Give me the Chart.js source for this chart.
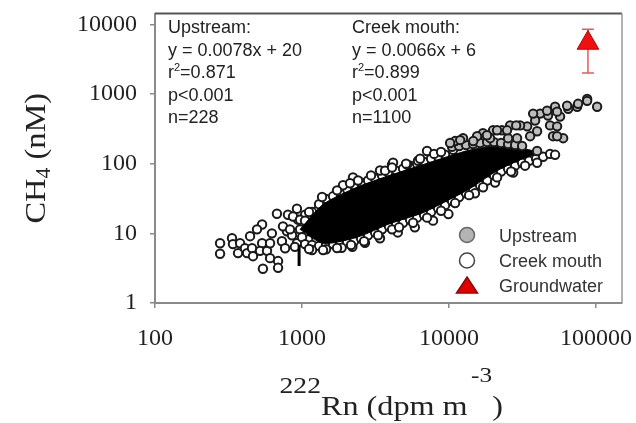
<!DOCTYPE html>
<html>
<head>
<meta charset="utf-8">
<script src="https://cdn.jsdelivr.net/npm/chart.js@4.4.1/dist/chart.umd.min.js"></script>
<style>
  html, body { margin: 0; padding: 0; background: #fff; }
  canvas { display: block; }
</style>
</head>
<body>
<canvas id="rnChart" width="636" height="423"></canvas>
<script>
// decade ticks only
const xTicks = [100, 1000, 10000, 100000];
const yTicks = [1, 10, 100, 1000, 10000];

// creek mouth samples, [Rn, CH4]
const creekTail = [
  [277, 7.2], [277, 5.1], [334, 8.5], [339, 7.0], [379, 7.2], [367, 5.2], [409, 6.1], [423, 5.2],
  [457, 6.1], [464, 4.7], [535, 13.4], [535, 7.2], [518, 5.6], [542, 3.1], [578, 5.6], [606, 4.4],
  [687, 4.0], [687, 3.2], [624, 10], [675, 19.1], [730, 7.7], [767, 6.1], [802, 18.5], [790, 10.7],
  [923, 22.5], [938, 15.7], [969, 11.4], [923, 7.2], [443, 9.1], [494, 11.4], [606, 7.2], [855, 9.4],
  [742, 12.6], [1050, 18.5], [1100, 8.2], [1170, 6.6], [1290, 21.8], [868, 17.4], [1000, 8.8],
  [894, 6.4], [828, 11.4], [1100, 12.6], [969, 15.7]
];
const creekUpperEdge = [
  [1048, 15.2], [1170, 20.2], [1305, 26.2], [1457, 31.1], [1625, 34.0], [1814, 38.8], [2024, 42.8],
  [2258, 49], [2520, 53.7], [2812, 57.3], [3138, 61.2], [3501, 67.5], [3906, 74.4], [4360, 79.4],
  [4865, 84.7], [5429, 93.5], [6057, 100], [6759, 106], [7543, 117.6], [8418, 125.6], [9393, 134],
  [1900, 49], [2220, 63.5], [3390, 79.7], [3850, 75], [4090, 97], [4160, 103], [5180, 97],
  [6150, 110], [7080, 152], [10650, 158],
  [1116, 20.2], [1368, 33.2], [1730, 41.4], [2121, 52.3], [2404, 57.3], [2946, 67.8], [3670, 79.4],
  [4095, 87.9], [5099, 100], [6350, 117.6], [7906, 138], [8820, 147]
];
const creekLowerEdge = [
  [1048, 7.0], [1170, 6.8], [1305, 6.6], [1457, 6.8], [1625, 7.0], [1814, 7.2], [2024, 7.4],
  [2258, 7.7], [2520, 8.5], [2812, 9.4], [3138, 10.3], [3501, 11.4], [3906, 12.5], [4360, 13.4],
  [4865, 14.2], [5429, 15.7], [6057, 16.8], [6759, 18.4], [7543, 20.2], [8418, 23.0], [9393, 25.4],
  [10480, 29.0], [11700, 33.1], [13050, 37.6], [14570, 42.8], [16250, 49], [18140, 57.3],
  [20240, 67.5], [22580, 77], [25200, 84.7], [28120, 93.5], [31380, 103], [35010, 110],
  [39060, 117.6], [43600, 125.6], [48650, 138],
  [1170, 5.75], [1457, 5.9], [1860, 6.2], [2200, 6.4], [2680, 7.3], [3390, 8.5], [4480, 10.3],
  [5850, 12.2], [7780, 15.2], [9900, 18.9], [15000, 37.6], [20550, 53.7], [27300, 74.4],
  [39700, 103], [52600, 134],
  [1116, 5.95], [1390, 5.75], [1730, 6.15], [2155, 6.8], [2642, 7.7], [3289, 9.4], [4095, 11.4],
  [4571, 12.2], [5690, 14.2], [7084, 16.8], [8820, 21.1], [10990, 27.2], [13680, 35.3],
  [17030, 45.9], [21210, 63.5], [26410, 77.2], [32880, 93.5]
];
// upstream samples, [Rn, CH4]
const upstreamPts = [
  [10480, 174], [11700, 179], [13050, 185], [14570, 191], [16250, 198], [18140, 204], [20240, 204],
  [22580, 198], [25200, 191], [28120, 185], [31380, 179],
  [86900, 851], [101600, 656], [74300, 656], [64600, 615], [52600, 656], [56900, 474], [47100, 490],
  [41600, 523], [38500, 417], [48600, 354], [54300, 343], [59700, 232], [50900, 248], [39700, 292],
  [34000, 343], [30400, 354], [35600, 248], [29000, 232], [26000, 354], [25200, 232], [22900, 301],
  [19900, 301], [19000, 232], [17000, 273], [15500, 248], [14600, 211], [12450, 232], [11000, 211],
  [39700, 152], [86900, 797], [75400, 723], [63500, 678], [54300, 558], [46400, 576], [37300, 523],
  [28600, 354], [24800, 301], [21200, 301], [18100, 256], [11900, 218], [10160, 198], [54300, 248]
];
// where the circles merge into solid black
const coreX = [970, 1390, 2370, 3970, 6660, 10200, 13900, 21200, 32900, 41600];
const coreTop = [11.4, 26, 46, 68, 97, 130, 157, 179, 163, 143];
const coreBottom = [11.4, 7.2, 8.8, 13.8, 19.8, 31, 44, 79, 122, 143];
// groundwater end-member and its range
const gwRn = 88000, gwCH4 = 5400, gwLow = 2000, gwHigh = 8500;
// short black mark near 1000
const markRn = 955, markLow = 3.4, markHigh = 6.8;

const upstreamText = ['Upstream:', 'y = 0.0078x + 20', 'r^2=0.871', 'p<0.001', 'n=228'];
const creekText = ['Creek mouth:', 'y = 0.0066x + 6', 'r^2=0.899', 'p<0.001', 'n=1100'];
const legendLabels = ['Upstream', 'Creek mouth', 'Groundwater'];

const pts = arr => arr.map(([x, y]) => ({ x, y }));
const SANS = '"Liberation Sans", Arial, sans-serif';
const SERIF = '"Liberation Serif", "Times New Roman", serif';

function drawStats(ctx, lines, x, y0) {
  lines.forEach((line, i) => {
    const y = y0 + i * 22.5;
    ctx.font = '18px ' + SANS;
    const k = line.indexOf('^');
    if (k < 0) { ctx.fillText(line, x, y); return; }
    const head = line.slice(0, k), sup = line[k + 1], rest = line.slice(k + 2);
    ctx.fillText(head, x, y);
    let cx = x + ctx.measureText(head).width;
    ctx.font = '11px ' + SANS;
    ctx.fillText(sup, cx, y - 6);
    cx += ctx.measureText(sup).width;
    ctx.font = '18px ' + SANS;
    ctx.fillText(rest, cx, y);
  });
}

const decor = {
  id: 'decor',
  afterDraw(chart) {
    const ctx = chart.ctx;
    const a = chart.chartArea;
    ctx.save();
    // frame
    ctx.strokeStyle = '#555';
    ctx.lineWidth = 2;
    ctx.beginPath(); ctx.moveTo(a.left, a.top); ctx.lineTo(a.right, a.top); ctx.stroke();
    ctx.strokeStyle = '#9a9a9a';
    ctx.lineWidth = 1.5;
    ctx.beginPath(); ctx.moveTo(a.right, a.top); ctx.lineTo(a.right, a.bottom); ctx.stroke();

    // regression stats
    ctx.fillStyle = '#222';
    ctx.textAlign = 'left';
    ctx.textBaseline = 'middle';
    drawStats(ctx, upstreamText, a.left + 13, a.top + 15);
    drawStats(ctx, creekText, a.left + 197, a.top + 15);

    // legend
    const lx = a.left + 312, ly = a.bottom - 68;
    ctx.lineWidth = 1.5;
    ctx.fillStyle = '#b4b4b4'; ctx.strokeStyle = '#666';
    ctx.beginPath(); ctx.arc(lx, ly, 7.5, 0, Math.PI * 2); ctx.fill(); ctx.stroke();
    ctx.fillStyle = '#fff'; ctx.strokeStyle = '#444';
    ctx.beginPath(); ctx.arc(lx, ly + 25.5, 7.5, 0, Math.PI * 2); ctx.fill(); ctx.stroke();
    ctx.fillStyle = '#e00000'; ctx.strokeStyle = '#900';
    ctx.beginPath();
    ctx.moveTo(lx, ly + 42); ctx.lineTo(lx + 10.5, ly + 58); ctx.lineTo(lx - 10.5, ly + 58);
    ctx.closePath(); ctx.fill(); ctx.stroke();
    ctx.fillStyle = '#333';
    ctx.font = '18px ' + SANS;
    legendLabels.forEach((t, i) => ctx.fillText(t, lx + 32, ly + 2 + i * 25));

    // y title: CH4 (nM)
    ctx.save();
    ctx.translate(35, (a.top + a.bottom) / 2);
    ctx.rotate(-Math.PI / 2);
    ctx.scale(1.08, 1);
    ctx.fillStyle = '#222';
    ctx.textBaseline = 'alphabetic';
    ctx.font = '30px ' + SERIF;
    const w1 = ctx.measureText('CH').width, w3 = ctx.measureText(' (nM)').width;
    ctx.font = '20px ' + SERIF;
    const w2 = ctx.measureText('4').width;
    let sx = -(w1 + w2 + w3) / 2;
    ctx.font = '30px ' + SERIF; ctx.fillText('CH', sx, 10); sx += w1;
    ctx.font = '20px ' + SERIF; ctx.fillText('4', sx, 15); sx += w2;
    ctx.font = '30px ' + SERIF; ctx.fillText(' (nM)', sx, 10);
    ctx.restore();

    // x title: 222Rn (dpm m-3)
    ctx.save();
    ctx.translate((a.left + a.right) / 2 + 1, 0);
    ctx.scale(1.15, 1);
    ctx.fillStyle = '#222';
    ctx.textBaseline = 'alphabetic';
    ctx.font = '24px ' + SERIF; const p1 = ctx.measureText('222').width;
    ctx.font = '28px ' + SERIF; const p2 = ctx.measureText('Rn (dpm m').width;
    ctx.font = '22px ' + SERIF; const p3 = ctx.measureText('-3').width;
    ctx.font = '28px ' + SERIF; const p4 = ctx.measureText(')').width;
    let tx = -(p1 + p2 + p3 + p4) / 2;
    ctx.font = '24px ' + SERIF; ctx.fillText('222', tx, 393); tx += p1;
    ctx.font = '28px ' + SERIF; ctx.fillText('Rn (dpm m', tx, 415); tx += p2;
    ctx.font = '22px ' + SERIF; ctx.fillText('-3', tx + 3, 382); tx += p3 + 3;
    ctx.font = '28px ' + SERIF; ctx.fillText(')', tx, 415);
    ctx.restore();

    ctx.restore();
  }
};

const axisGrid = { display: true, drawOnChartArea: false, drawTicks: true, tickLength: 5, color: '#8a8a8a', lineWidth: 1.5 };
const axisBorder = { display: true, color: '#8a8a8a', width: 2 };
const tickFont = { family: 'Liberation Serif', size: 24 };

new Chart(document.getElementById('rnChart'), {
  type: 'scatter',
  data: {
    datasets: [
      { label: 'Groundwater', data: [{ x: gwRn, y: gwCH4 }], pointStyle: 'triangle', pointRadius: 12.5,
        backgroundColor: '#f01010', borderColor: '#c00000', borderWidth: 1, order: 0 },
      { type: 'line', label: 'gw range', data: [{ x: gwRn, y: gwLow }, { x: gwRn, y: gwHigh }],
        borderColor: '#e65a5a', borderWidth: 1.5, pointStyle: 'line', pointRadius: 6,
        pointBorderColor: '#e65a5a', pointBorderWidth: 1.5, fill: false, order: 1 },
      { type: 'line', label: 'mark', data: [{ x: markRn, y: markLow }, { x: markRn, y: markHigh }],
        borderColor: '#000', borderWidth: 3, pointRadius: 0, fill: false, order: 2 },
      { label: 'Upstream', data: pts(upstreamPts), pointRadius: 4.2, backgroundColor: '#bdbdbd',
        borderColor: '#1a1a1a', borderWidth: 2, order: 3 },
      { type: 'line', label: 'core', data: coreX.map((x, i) => ({ x, y: coreTop[i] })), fill: '+1',
        backgroundColor: '#000', borderColor: '#000', borderWidth: 1, pointRadius: 0, tension: 0.25, order: 4 },
      { type: 'line', label: 'core low', data: coreX.map((x, i) => ({ x, y: coreBottom[i] })), fill: false,
        borderColor: '#000', borderWidth: 1, pointRadius: 0, tension: 0.25, order: 4 },
      { label: 'Creek mouth', data: pts([...creekTail, ...creekUpperEdge, ...creekLowerEdge]), pointRadius: 4.2,
        backgroundColor: '#fff', borderColor: '#1a1a1a', borderWidth: 2, order: 6 }
    ]
  },
  options: {
    responsive: false,
    animation: false,
    events: [],
    layout: { padding: { top: 8, right: 14, left: 0, bottom: 0 } },
    plugins: { legend: { display: false }, tooltip: { enabled: false } },
    scales: {
      x: {
        type: 'logarithmic', min: 100, max: 150000,
        afterBuildTicks: s => { s.ticks = xTicks.map(v => ({ value: v })); },
        afterFit: s => { s.height = 120; s.paddingLeft = 0; s.paddingRight = 0; },
        ticks: { callback: v => String(v), autoSkip: false, maxRotation: 0, padding: 16, color: '#222', font: tickFont },
        grid: axisGrid, border: axisBorder
      },
      y: {
        type: 'logarithmic', min: 1, max: 14300,
        afterBuildTicks: s => { s.ticks = yTicks.map(v => ({ value: v })); },
        afterFit: s => { s.width = 155; s.paddingTop = 0; s.paddingBottom = 0; },
        ticks: { callback: v => String(v), autoSkip: false, padding: 13, color: '#222', font: tickFont },
        grid: axisGrid, border: axisBorder
      }
    }
  },
  plugins: [decor]
});
</script>
</body>
</html>
